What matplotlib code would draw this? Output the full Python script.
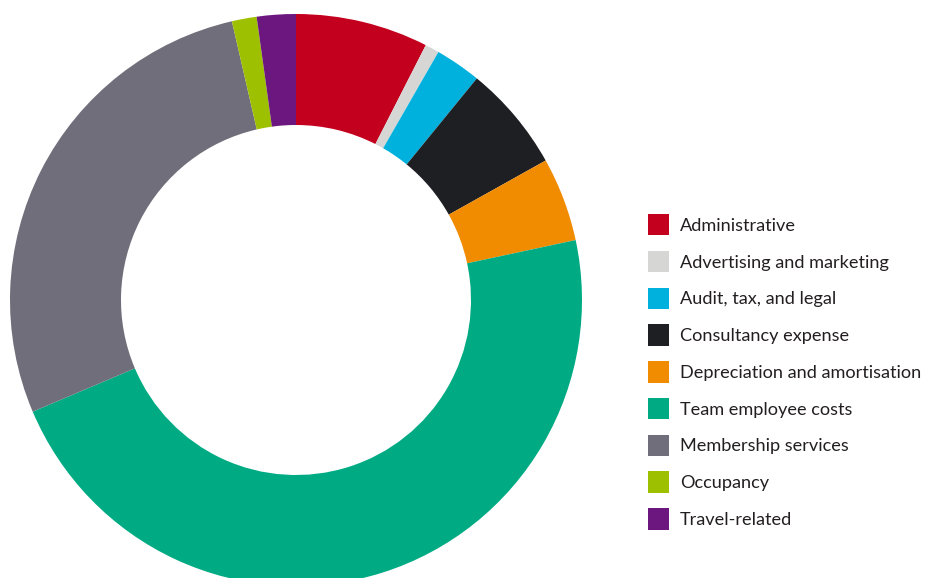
import matplotlib.pyplot as plt
from matplotlib.patches import Patch

categories = ["Administrative", "Advertising and marketing", "Audit, tax, and legal",
              "Consultancy expense", "Depreciation and amortisation", "Team employee costs",
              "Membership services", "Occupancy", "Travel-related"]
shares = [7.5, 0.8, 2.6, 6.0, 4.75, 47.0, 27.8, 1.4, 2.2]
colors = ["#C4001F", "#D6D7D5", "#00B1DE", "#1E1F23", "#F18B00",
          "#00AB84", "#706E7A", "#9DC000", "#6C1780"]

plt.rcParams['font.family'] = ['Lato', 'DejaVu Sans']

fig = plt.figure(figsize=(9.25, 5.78), dpi=100)
ax = fig.add_axes([0, 0, 1, 1])

# axes in pixel units so the donut sits where it does in the original
ax.pie(shares, colors=colors, startangle=90, counterclock=False,
       center=(296, 278), radius=286,
       wedgeprops=dict(width=111, linewidth=0))
ax.set_xlim(0, 925)
ax.set_ylim(0, 578)
ax.set_aspect('equal')
ax.axis('off')

handles = [Patch(facecolor=c, edgecolor='none') for c in colors]
leg = ax.legend(handles, categories, loc='upper left',
                bbox_to_anchor=(648 / 925, 1 - 214 / 578),
                frameon=False, fontsize=13.1, handlelength=1.155, handleheight=1.44,
                handletextpad=0.60, labelspacing=0.84, borderpad=0, borderaxespad=0)
for t in leg.get_texts():
    t.set_color("#231F20")

fig.savefig("out.png", dpi=100)
